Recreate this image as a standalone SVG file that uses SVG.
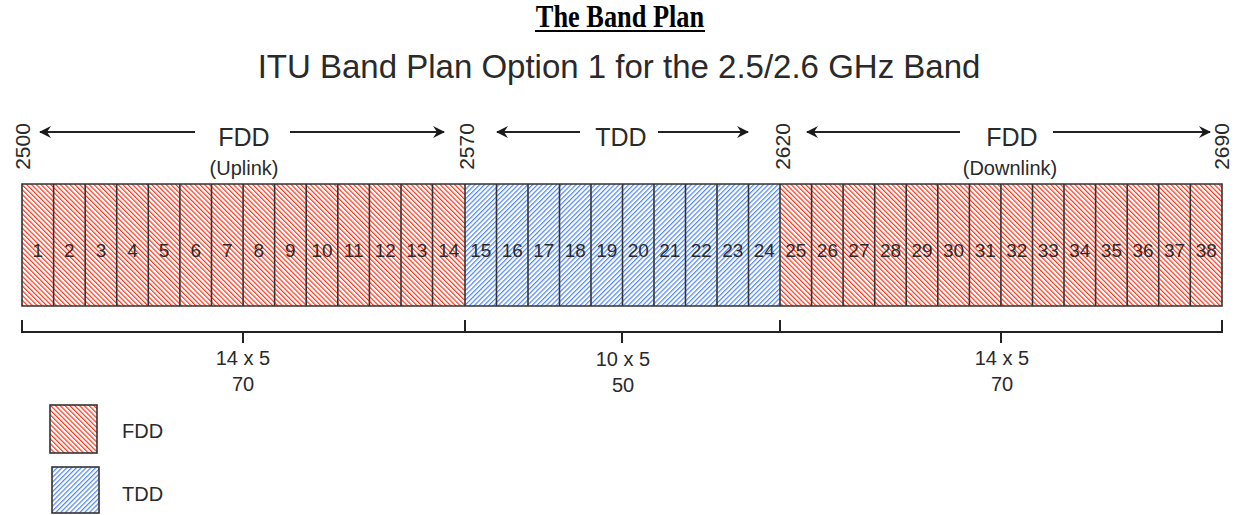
<svg xmlns="http://www.w3.org/2000/svg" width="1239" height="515" viewBox="0 0 1239 515">
<style>
.t{font-family:"Liberation Sans",Arial,sans-serif;fill:#2a2a2a}
.num{font-size:19px;text-anchor:middle}
.lbl{font-size:20px;text-anchor:middle}
.big{font-size:25px;text-anchor:middle}
.freq{font-size:21px;text-anchor:middle}
.cell{stroke:#333;stroke-width:1.6}
.fdd{fill:url(#hatchR)}
.tdd{fill:url(#hatchB)}
.ln{stroke:#222;stroke-width:2;fill:none}
</style>
<defs>
<pattern id="hatchR" patternUnits="userSpaceOnUse" width="3.4" height="10" patternTransform="rotate(-45)">
<rect width="3.4" height="10" fill="#fff"/>
<rect width="1.2" height="10" fill="#ff3015"/>
</pattern>
<pattern id="hatchB" patternUnits="userSpaceOnUse" width="3.4" height="10" patternTransform="rotate(45)">
<rect width="3.4" height="10" fill="#fff"/>
<rect width="1.2" height="10" fill="#4f86f0"/>
</pattern>
<marker id="ah" viewBox="0 0 12 12" refX="11" refY="6" markerWidth="12" markerHeight="12" markerUnits="userSpaceOnUse" orient="auto">
<path d="M0,0 L12,6 L0,12 L4,6 z" fill="#1a1a1a"/>
</marker>
</defs>
<rect width="1239" height="515" fill="#fff"/>

<g id="title">
<text transform="translate(620,27) scale(0.85,1)" font-family="'Liberation Serif','Times New Roman',serif" font-weight="bold" font-size="31" text-anchor="middle" fill="#000">The Band Plan</text>
<line x1="535" y1="31" x2="705" y2="31" stroke="#000" stroke-width="2"/>
<text class="t" x="619" y="78" font-size="33" text-anchor="middle" fill="#333">ITU Band Plan Option 1 for the 2.5/2.6 GHz Band</text>
</g>

<g id="freq-labels">
<text class="t freq" transform="translate(30,146.5) rotate(-90)">2500</text>
<text class="t freq" transform="translate(474,146.5) rotate(-90)">2570</text>
<text class="t freq" transform="translate(790,146.5) rotate(-90)">2620</text>
<text class="t freq" transform="translate(1229,146.5) rotate(-90)">2690</text>
</g>

<g id="connectors">
<line class="ln" x1="195" y1="132" x2="40" y2="132" marker-end="url(#ah)"/>
<line class="ln" x1="290" y1="132" x2="444" y2="132" marker-end="url(#ah)"/>
<line class="ln" x1="580" y1="132" x2="497" y2="132" marker-end="url(#ah)"/>
<line class="ln" x1="658" y1="132" x2="748" y2="132" marker-end="url(#ah)"/>
<line class="ln" x1="960" y1="132" x2="807" y2="132" marker-end="url(#ah)"/>
<line class="ln" x1="1053" y1="132" x2="1210" y2="132" marker-end="url(#ah)"/>
<path class="ln" d="M22,320 V332 H1222 V320 M465,320 V332 M780,320 V332 M243,332 V343 M622,332 V343 M1001,332 V343"/>
</g>

<g id="fdd-uplink">
<text class="t big" x="244" y="146">FDD</text>
<text class="t lbl" x="244" y="175">(Uplink)</text>
</g>
<g id="tdd">
<text class="t big" x="621" y="146">TDD</text>
</g>
<g id="fdd-downlink">
<text class="t big" x="1012" y="146">FDD</text>
<text class="t lbl" x="1010" y="175">(Downlink)</text>
</g>

<g id="band">
<rect class="fdd" x="22" y="184" width="443" height="122"/>
<rect class="tdd" x="465" y="184" width="315" height="122"/>
<rect class="fdd" x="780" y="184" width="442" height="122"/>
<path class="cell" fill="none" d="M22,184 H1222 V306 H22 Z
M53.6,184V306 M85.2,184V306 M116.7,184V306 M148.3,184V306 M179.9,184V306 M211.5,184V306 M243.1,184V306 M274.6,184V306 M306.2,184V306 M337.8,184V306 M369.4,184V306 M401,184V306 M432.5,184V306 M465,184V306 M496.5,184V306 M528,184V306 M559.5,184V306 M591,184V306 M622.5,184V306 M654,184V306 M685.5,184V306 M717,184V306 M748.5,184V306 M780,184V306 M811.6,184V306 M843.1,184V306 M874.7,184V306 M906.2,184V306 M937.8,184V306 M969.4,184V306 M1000.9,184V306 M1032.5,184V306 M1064,184V306 M1095.6,184V306 M1127.2,184V306 M1158.7,184V306 M1190.3,184V306"/>
</g>

<g id="cell-numbers">
<text class="t num" x="37.8" y="257">1</text>
<text class="t num" x="69.4" y="257">2</text>
<text class="t num" x="101" y="257">3</text>
<text class="t num" x="132.5" y="257">4</text>
<text class="t num" x="164.1" y="257">5</text>
<text class="t num" x="195.7" y="257">6</text>
<text class="t num" x="227.3" y="257">7</text>
<text class="t num" x="258.9" y="257">8</text>
<text class="t num" x="290.4" y="257">9</text>
<text class="t num" x="322" y="257">10</text>
<text class="t num" x="353.6" y="257">11</text>
<text class="t num" x="385.2" y="257">12</text>
<text class="t num" x="416.8" y="257">13</text>
<text class="t num" x="448.8" y="257">14</text>
<text class="t num" x="480.8" y="257">15</text>
<text class="t num" x="512.3" y="257">16</text>
<text class="t num" x="543.8" y="257">17</text>
<text class="t num" x="575.3" y="257">18</text>
<text class="t num" x="606.8" y="257">19</text>
<text class="t num" x="638.3" y="257">20</text>
<text class="t num" x="669.8" y="257">21</text>
<text class="t num" x="701.3" y="257">22</text>
<text class="t num" x="732.8" y="257">23</text>
<text class="t num" x="764.3" y="257">24</text>
<text class="t num" x="795.8" y="257">25</text>
<text class="t num" x="827.4" y="257">26</text>
<text class="t num" x="858.9" y="257">27</text>
<text class="t num" x="890.5" y="257">28</text>
<text class="t num" x="922" y="257">29</text>
<text class="t num" x="953.6" y="257">30</text>
<text class="t num" x="985.2" y="257">31</text>
<text class="t num" x="1016.7" y="257">32</text>
<text class="t num" x="1048.3" y="257">33</text>
<text class="t num" x="1079.8" y="257">34</text>
<text class="t num" x="1111.4" y="257">35</text>
<text class="t num" x="1143" y="257">36</text>
<text class="t num" x="1174.5" y="257">37</text>
<text class="t num" x="1206.2" y="257">38</text>
</g>

<g id="totals">
<text class="t lbl" x="243" y="365">14 x 5</text>
<text class="t lbl" x="243" y="391">70</text>
<text class="t lbl" x="623" y="366">10 x 5</text>
<text class="t lbl" x="623" y="392">50</text>
<text class="t lbl" x="1002" y="365">14 x 5</text>
<text class="t lbl" x="1002" y="391">70</text>
</g>

<g id="legend-fdd">
<rect class="fdd cell" x="50" y="405" width="47" height="48"/>
<text class="t" x="122" y="438" font-size="20">FDD</text>
</g>
<g id="legend-tdd">
<rect class="tdd cell" x="52" y="467" width="47" height="46"/>
<text class="t" x="122" y="501" font-size="20">TDD</text>
</g>
</svg>
